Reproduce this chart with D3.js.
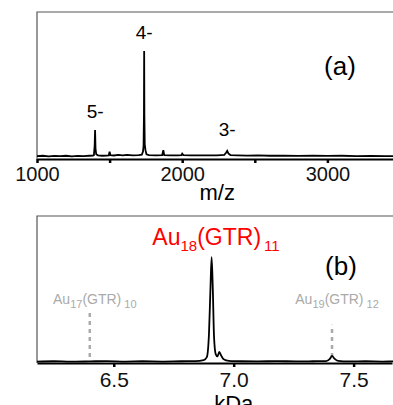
<!DOCTYPE html>
<html>
<head>
<meta charset="utf-8">
<script src="https://cdn.jsdelivr.net/npm/d3@7"></script>
<style>
  body { margin: 0; background: #fff; }
  svg { display: block; font-family: "Liberation Sans", Arial, sans-serif; }
</style>
</head>
<body>
<svg id="chart" width="393" height="405"></svg>
<script>
// panel (a): m/z spectrum, [m/z, intensity]
const spectrumA = [
  [1000, 2], [1040, 2.2], [1080, 1.8], [1120, 2.1], [1160, 1.9], [1200, 2.2], [1240, 1.8],
  [1280, 2.1], [1320, 1.9], [1360, 2.2], [1385, 2.3], [1392, 2.6], [1397, 9], [1400, 19.7],
  [1403, 7], [1408, 3.2], [1420, 2.5], [1450, 2.2], [1480, 2.3], [1494, 2.4], [1500, 5],
  [1506, 2.6], [1530, 2.4], [1560, 2.8], [1590, 2.5], [1620, 2.8], [1660, 2.4], [1700, 2.6],
  [1722, 3], [1730, 5], [1734, 9], [1736.5, 30], [1738, 73.5], [1739.5, 30], [1742, 10],
  [1747, 6], [1754, 3.2], [1770, 2.6], [1820, 2.5], [1862, 2.6], [1870, 6], [1876, 2.7],
  [1920, 2.4], [1970, 2.4], [1995, 2.6], [2000, 3.6], [2008, 2.6], [2060, 2.4], [2120, 2.5],
  [2180, 2.4], [2240, 2.5], [2290, 2.8], [2302, 4.2], [2310, 5.5], [2318, 3.8], [2332, 2.7],
  [2380, 2.5], [2450, 2.3], [2520, 2.4], [2600, 2.2], [2700, 2.3], [2800, 2.1], [2900, 2.2],
  [3000, 2.1], [3100, 2.2], [3200, 2], [3300, 2.1], [3400, 1.9], [3500, 2]
];
const chargeLabels = [
  { mz: 1400, y: 118, text: '5-' },
  { mz: 1738, y: 39, text: '4-' },
  { mz: 2310, y: 136, text: '3-' }
];
const ticksA = [1000, 1500, 2000, 2500, 3000, 3500];

// panel (b): deconvoluted mass, [kDa, intensity]
const spectrumB = [
  [6.18, 1], [6.25, 1.2], [6.32, 0.9], [6.40, 1.1], [6.47, 1.3], [6.55, 1], [6.62, 1.2],
  [6.70, 1], [6.78, 1.2], [6.84, 1.3], [6.875, 2], [6.888, 4], [6.897, 20], [6.903, 50],
  [6.908, 72], [6.913, 50], [6.918, 18], [6.925, 6], [6.932, 4.5], [6.94, 7.5], [6.948, 5],
  [6.958, 2.6], [6.98, 1.5], [7.03, 1.2], [7.10, 1.1], [7.18, 1.3], [7.26, 1.1], [7.33, 1.2],
  [7.385, 1.3], [7.40, 2.6], [7.41, 4.8], [7.42, 3], [7.435, 1.5], [7.48, 1.1], [7.55, 1.2],
  [7.62, 1], [7.70, 1.1]
];
const ticksB = [6.5, 7.0, 7.5];
// neighbouring clusters: position, dash top, subscripts
const markersB = [
  { kda: 6.40, top: 34, n: '17', m: '10' },
  { kda: 7.41, top: 26, n: '19', m: '12' }
];

const svg = d3.select('#chart');
const left = 37, right = 400;

// ---------- panel (a)
const xA = d3.scaleLinear().domain([1000, 3500]).range([left, right]);
const yA = d3.scaleLinear().domain([0, 100]).range([159, 12]);
const gA = svg.append('g');

gA.append('path')
  .attr('d', `M${right},${yA(100)}H${left}V${yA(0)}`)
  .attr('fill', 'none').attr('stroke', '#555').attr('stroke-width', 1.2);

gA.append('path')
  .datum(spectrumA)
  .attr('d', d3.line().x(d => xA(d[0])).y(d => yA(d[1])))
  .attr('fill', 'none').attr('stroke', '#000').attr('stroke-width', 1.8);

const axA = gA.append('g')
  .attr('transform', `translate(0,${yA(0)})`)
  .call(d3.axisBottom(xA).tickValues(ticksA).tickSize(4).tickSizeOuter(0).tickPadding(4)
    .tickFormat(d => d % 1000 === 0 && d < 3500 ? d : ''));
axA.select('.domain').attr('stroke-width', 2);
axA.selectAll('.tick line').attr('stroke-width', 2.5);
axA.selectAll('.tick text').attr('font-size', 20).attr('fill', '#111');

gA.append('text').attr('x', xA(2000) + 35).attr('y', 200).attr('text-anchor', 'middle')
  .attr('font-size', 22).text('m/z');

gA.selectAll('.lab').data(chargeLabels).join('text')
  .attr('x', d => xA(d.mz)).attr('y', d => d.y).attr('text-anchor', 'middle')
  .attr('font-size', 19).text(d => d.text);

gA.append('text').attr('x', 340).attr('y', 75).attr('text-anchor', 'middle')
  .attr('font-size', 26).text('(a)');

// ---------- panel (b)
const xB = d3.scaleLinear().domain([6.18, 7.66]).range([left, 392]);
const yB = d3.scaleLinear().domain([0, 100]).range([363, 216]);
const gB = svg.append('g');

gB.append('path')
  .attr('d', `M${right},${yB(100)}H${left}V${yB(0)}`)
  .attr('fill', 'none').attr('stroke', '#555').attr('stroke-width', 1.2);

gB.selectAll('.mark').data(markersB).join('line')
  .attr('x1', d => xB(d.kda)).attr('x2', d => xB(d.kda))
  .attr('y1', d => yB(4)).attr('y2', d => yB(d.top))
  .attr('stroke', '#aaa').attr('stroke-width', 2.5).attr('stroke-dasharray', '4,4');

gB.append('path')
  .datum(spectrumB)
  .attr('d', d3.line().curve(d3.curveMonotoneX).x(d => xB(d[0])).y(d => yB(d[1])))
  .attr('fill', 'none').attr('stroke', '#000').attr('stroke-width', 1.8);

const axB = gB.append('g')
  .attr('transform', `translate(0,${yB(0)})`)
  .call(d3.axisBottom(xB).tickValues(ticksB).tickSize(4).tickSizeOuter(0).tickPadding(5)
    .tickFormat(d3.format('.1f')));
axB.select('.domain').attr('stroke-width', 2);
axB.selectAll('.tick line').attr('stroke-width', 2.5);
axB.selectAll('.tick text').attr('font-size', 21).attr('fill', '#111');

gB.append('text').attr('x', xB(7.0)).attr('y', 411).attr('text-anchor', 'middle')
  .attr('font-size', 22).text('kDa');

gB.append('text').attr('x', 341).attr('y', 275).attr('text-anchor', 'middle')
  .attr('font-size', 26).text('(b)');

function formula(g, x, y, n, m, size, sub, color) {
  const t = g.append('text').attr('x', x).attr('y', y).attr('text-anchor', 'middle')
    .attr('font-size', size).attr('fill', color);
  t.append('tspan').text('Au');
  t.append('tspan').attr('font-size', sub).attr('dy', size * 0.25).text(n);
  t.append('tspan').attr('dy', -size * 0.25).text('(GTR)');
  t.append('tspan').attr('font-size', sub).attr('dy', size * 0.25).attr('dx', 3).text(m);
}
formula(gB, 216, 245, '18', '11', 23, 15, '#f00');
markersB.forEach(d => formula(gB, xB(d.kda) + 5, 304, d.n, d.m, 14, 11, '#aaa'));
</script>
</body>
</html>
